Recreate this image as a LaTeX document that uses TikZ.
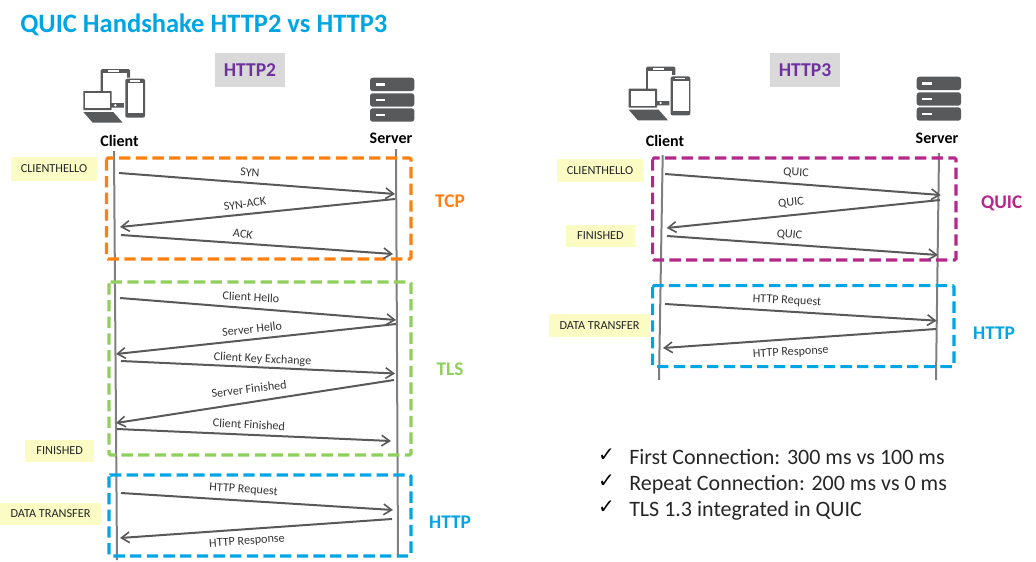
\documentclass[tikz,border=0pt]{standalone}
\usepackage{fontspec}
\setmainfont{Carlito}
\newfontfamily\checkfont{DejaVu Sans}
\usetikzlibrary{arrows.meta}
\definecolor{titleblue}{HTML}{00A5E3}
\definecolor{tcporange}{HTML}{FF7F0F}
\definecolor{tlsgreen}{HTML}{8FD05C}
\definecolor{quicpink}{HTML}{B5288B}
\definecolor{httpviolet}{HTML}{7030A0}
\definecolor{tagyellow}{HTML}{FAFCC4}
\definecolor{versiongray}{HTML}{D9D9D9}
\definecolor{icongray}{HTML}{58595B}
\definecolor{lifegray}{HTML}{7F7F7F}
\definecolor{msggray}{HTML}{595959}
\tikzset{
  lifeline/.style={draw=lifegray,line width=1.5pt},
  msgarrow/.style={draw=msggray,line width=1.5pt,-{Straight Barb[length=6pt,width=8pt,line width=1.2pt]}},
  msglabel/.style={inner sep=0pt,text=black!80,font=\fontsize{9.1}{11}\selectfont},
  groupbox/.style={line width=2.3pt,dash pattern=on 8.5pt off 4pt,rounded corners=1pt,inner sep=0pt},
  tagbox/.style={fill=tagyellow,inner sep=0pt,text=black!85,font=\fontsize{9.2}{11}\selectfont},
  versionbox/.style={fill=versiongray,inner sep=0pt,minimum width=52.5pt,minimum height=25pt,text=httpviolet,font=\bfseries\fontsize{14.7}{17}\selectfont},
  protolabel/.style={inner sep=0pt,font=\bfseries\fontsize{14.5}{17}\selectfont},
  hostlabel/.style={inner sep=0pt,font=\bfseries\fontsize{12}{14}\selectfont},
  pointlabel/.style={inner sep=0pt,anchor=base west,text=black!85,font=\fontsize{16.5}{20}\selectfont},
  pics/clienticon/.style={code={
    \fill[icongray,rounded corners=1pt] (17.7,0) rectangle (47,38.7);
    \fill[white] (20,4.3) rectangle (44,34);
    \fill[white] (25,1.3) rectangle (36,2.8);
    \fill[white] (32.3,36.3) circle (1pt);
    \fill[white,rounded corners=1.5pt] (41,8.5) rectangle (63,49.7);
    \fill[icongray,rounded corners=1.5pt] (42.3,9.7) rectangle (62,48.7);
    \fill[white] (44.5,14.3) rectangle (60.3,44);
    \fill[white] (47,10.8) rectangle (57,12.6);
    \fill[icongray,rounded corners=.5pt] (0.3,22) rectangle (28.7,41);
    \fill[white] (2.3,24.3) rectangle (27,39.3);
    \fill[icongray] (0.3,43) -- (30.3,43) -- (39.7,53.7) -- (9.7,53.7) -- cycle;
  }},
  pics/servericon/.style={code={
    \foreach \ytop in {0,15.6,30.6}{
      \fill[icongray,rounded corners=2pt] (0,\ytop) rectangle (44.3,\ytop+13.4);
      \fill[white] (5.7,\ytop+5.6) rectangle (15,\ytop+7.8);
    }
  }},
}
\begin{document}
\begin{tikzpicture}[x=0.75pt,y=-0.75pt,>=stealth]
  \useasboundingbox (0,0) rectangle (1036,561);
  \node[anchor=west,inner sep=0pt,text=titleblue,font=\bfseries\fontsize{19.9}{24}\selectfont] (title) at (20,25) {QUIC Handshake HTTP2 vs HTTP3};

  % version tags and hosts
  \node[versionbox] (httptwo) at (250,70) {HTTP2};
  \node[versionbox] (httpthree) at (805,70) {HTTP3};
  \pic at (83,69) {clienticon};
  \pic at (628.3,66.7) {clienticon};
  \pic at (370,77.7) {servericon};
  \pic at (916.7,76.7) {servericon};
  \node[hostlabel] (clienta) at (119.5,141) {Client};
  \node[hostlabel] (servera) at (391,138) {Server};
  \node[hostlabel] (clientb) at (665,141) {Client};
  \node[hostlabel] (serverb) at (937,138) {Server};

  % lifelines
  \foreach \name/\xa/\ya/\xb/\yb in {la/114/151/117/560, lb/396/149/398/557, lc/662.7/155/659/380, ld/939/153/936/380}{
    \coordinate (\name top) at (\xa,\ya);
    \coordinate (\name bot) at (\xb,\yb);
    \draw[lifeline] (\name top)--(\name bot);
  }

  % dashed groups
  \foreach \name/\xa/\ya/\xb/\yb/\col in {tcpbox/106.5/158/411/259/tcporange, tlsbox/109/282/411/455/tlsgreen, httpboxa/109/475/411/556/titleblue, quicbox/652.7/158/956/260/quicpink, httpboxb/652.7/285.7/954/366.7/titleblue}{
    \coordinate (\name nw) at (\xa,\ya);
    \coordinate (\name se) at (\xb,\yb);
    \draw[groupbox,draw=\col] (\name nw) rectangle (\name se);
  }

  % messages
  \foreach \name/\xa/\ya/\xb/\yb/\lx/\ly/\rot/\txt in {
    ma/119/173/395/194/250/172.5/-4/SYN,
    mb/395/199/120/227/245/204/8/SYN-ACK,
    mc/121/235/393/254/243/234/-8/ACK,
    md/120/298/396/320/251/297/-3/Client Hello,
    me/396/324/116/354/252/329/6/Server Hello,
    mf/121/361/395/373.5/262.5/359.5/-3/Client Key Exchange,
    mg/394/380/116/423/249/389/7/Server Finished,
    mh/117/429/391/441/249/424.5/-3/Client Finished,
    mi/121/493/393/510/243.5/490/-4/HTTP Request,
    mj/392/519/120/538/247/541.5/4/HTTP Response,
    na/665/174/940.7/195/796/173/-3/QUIC,
    nb/940/200/666.7/228/791/203/6/QUIC,
    nc/667/236/938/255/789.5/235/-5/QUIC,
    nd/665/304/936.7/320.7/787/301/-3/HTTP Request,
    ne/936/329/663/348/790.7/352.5/3/HTTP Response}{
    \coordinate (\name a) at (\xa,\ya);
    \coordinate (\name b) at (\xb,\yb);
    \draw[msgarrow] (\name a)--(\name b);
    \node[msglabel,rotate=\rot] (\name l) at (\lx,\ly) {\txt};
  }

  % yellow tags
  \foreach \name/\cx/\cy/\w/\h/\txt in {
    taga/54/169/86/24/CLIENTHELLO,
    tagb/59.7/451/68.5/22/FINISHED,
    tagc/50.5/514/101/22/DATA TRANSFER,
    tagd/600/170.5/86/23/CLIENTHELLO,
    tage/600.5/236/69/22/FINISHED,
    tagf/599.5/325.5/101/23/DATA TRANSFER}{
    \node[tagbox,minimum width=\w*0.75pt,minimum height=\h*0.75pt] (\name) at (\cx,\cy) {\txt};
  }

  % protocol names
  \node[protolabel,text=tcporange] (tcpname) at (450,201) {TCP};
  \node[protolabel,text=tlsgreen] (tlsname) at (450,369) {TLS};
  \node[protolabel,text=titleblue] (httpnamea) at (450,522) {HTTP};
  \node[protolabel,text=quicpink] (quicname) at (1001.7,203) {QUIC};
  \node[protolabel,text=titleblue] (httpnameb) at (994,333) {HTTP};

  % comparison list
  \foreach \y/\txt in {457/First Connection: 300 ms vs 100 ms, 483/Repeat Connection: 200 ms vs 0 ms, 509/TLS 1.3 integrated in QUIC}{
    \node[inner sep=0pt,text=black,font=\checkfont\fontsize{15}{18}\selectfont] (check\y) at (606.5,\y-2) {✓};
    \node[pointlabel] (point\y) at (629,\y+7) {\txt};
  }
\end{tikzpicture}
\end{document}
